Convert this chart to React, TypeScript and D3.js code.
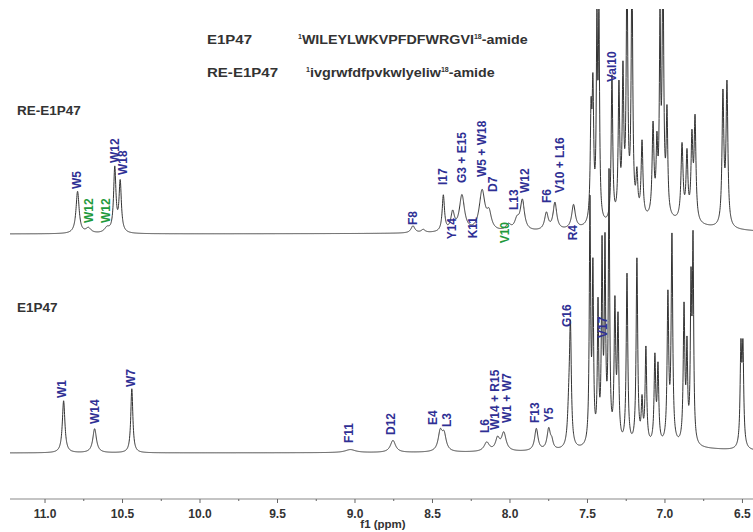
import React from 'react';
import * as d3 from 'd3';

const W = 753;
const H = 532;

// axis
const majorTicks = [11.0, 10.5, 10.0, 9.5, 9.0, 8.5, 8.0, 7.5, 7.0, 6.5];
const minorTicks = [10.75, 10.25, 9.75, 9.25, 8.75, 8.25, 7.75, 7.25, 6.75];
const axisTitle = 'f1 (ppm)';

// peaks: [ppm, intensity, half-width (ppm)]
type Peak = [number, number, number];

const rePeaks: Peak[] = [
  [10.79, 42, 0.012], [10.72, 5, 0.02], [10.60, 5, 0.02],
  [10.55, 64, 0.009], [10.515, 50, 0.009],
  [8.626, 7, 0.015], [8.56, 3, 0.015],
  [8.43, 36, 0.009], [8.37, 18, 0.014], [8.31, 36, 0.02],
  [8.18, 40, 0.022], [8.135, 16, 0.018],
  [8.01, 6, 0.02], [7.955, 10, 0.018], [7.92, 30, 0.016],
  [7.765, 17, 0.014], [7.71, 27, 0.014], [7.59, 24, 0.014],
  [7.477, 100, 0.006], [7.465, 125, 0.006], [7.439, 185, 0.005], [7.426, 190, 0.005],
  [7.342, 145, 0.006], [7.297, 130, 0.006], [7.271, 140, 0.006],
  [7.245, 250, 0.006], [7.213, 250, 0.006], [7.181, 40, 0.007], [7.148, 75, 0.007],
  [7.077, 90, 0.007], [7.052, 65, 0.006], [7.032, 180, 0.005], [7.013, 250, 0.006],
  [6.987, 100, 0.006], [6.89, 75, 0.008], [6.858, 65, 0.007], [6.826, 80, 0.007], [6.806, 100, 0.007],
  [6.626, 130, 0.007], [6.60, 140, 0.007],
  [7.05, 12, 0.35],
];

const e1Peaks: Peak[] = [
  [10.88, 52, 0.010], [10.68, 24, 0.014], [10.44, 64, 0.008],
  [9.03, 3, 0.04], [8.755, 12, 0.02],
  [8.45, 19, 0.016], [8.425, 16, 0.016],
  [8.15, 9, 0.02], [8.08, 12, 0.016], [8.04, 18, 0.018],
  [7.83, 22, 0.013], [7.75, 21, 0.013], [7.73, 7, 0.01],
  [7.62, 35, 0.01], [7.61, 112, 0.007],
  [7.484, 240, 0.005], [7.465, 170, 0.005], [7.432, 135, 0.005], [7.406, 190, 0.005],
  [7.387, 190, 0.005], [7.361, 265, 0.005],
  [7.323, 135, 0.006], [7.303, 120, 0.006],
  [7.245, 170, 0.006], [7.181, 185, 0.006], [7.148, 40, 0.006], [7.123, 95, 0.006],
  [7.065, 85, 0.006], [7.045, 75, 0.006],
  [6.981, 145, 0.006], [6.955, 205, 0.006],
  [6.877, 135, 0.006], [6.858, 90, 0.005], [6.832, 150, 0.005], [6.819, 195, 0.005],
  [6.51, 95, 0.006], [6.497, 95, 0.006],
  [7.0, 5, 0.5],
];

type Label = { text: string; ppm: number; at: number; below?: boolean; green?: boolean };

const reLabels: Label[] = [
  { text: 'W5', ppm: 10.794, at: 45 },
  { text: 'W12', ppm: 10.716, at: 11, green: true },
  { text: 'W12', ppm: 10.606, at: 11, green: true },
  { text: 'W12', ppm: 10.548, at: 71 },
  { text: 'W18', ppm: 10.497, at: 59 },
  { text: 'F8', ppm: 8.626, at: 9 },
  { text: 'I17', ppm: 8.432, at: 49 },
  { text: 'Y14', ppm: 8.374, at: 16, below: true },
  { text: 'G3 + E15', ppm: 8.31, at: 51 },
  { text: 'K11', ppm: 8.239, at: 17, below: true },
  { text: 'W5 + W18', ppm: 8.181, at: 57 },
  { text: 'D7', ppm: 8.11, at: 42 },
  { text: 'V10', ppm: 8.032, at: 12, below: true, green: true },
  { text: 'L13', ppm: 7.974, at: 24 },
  { text: 'W12', ppm: 7.903, at: 41 },
  { text: 'F6', ppm: 7.761, at: 31 },
  { text: 'V10 + L16', ppm: 7.677, at: 41 },
  { text: 'R4', ppm: 7.594, at: 9, below: true },
  { text: 'Val10', ppm: 7.342, at: 152 },
];

const e1Labels: Label[] = [
  { text: 'W1', ppm: 10.89, at: 55 },
  { text: 'W14', ppm: 10.677, at: 29 },
  { text: 'W7', ppm: 10.445, at: 66 },
  { text: 'F11', ppm: 9.039, at: 10 },
  { text: 'D12', ppm: 8.768, at: 18 },
  { text: 'E4', ppm: 8.497, at: 28 },
  { text: 'L3', ppm: 8.406, at: 26 },
  { text: 'L6', ppm: 8.161, at: 20 },
  { text: 'W14 + R15', ppm: 8.097, at: 23 },
  { text: 'W1 + W7', ppm: 8.019, at: 30 },
  { text: 'F13', ppm: 7.839, at: 30 },
  { text: 'Y5', ppm: 7.748, at: 31 },
  { text: 'G16', ppm: 7.632, at: 126 },
  { text: 'V17', ppm: 7.4, at: 115 },
];

const FONT = '"Liberation Sans", Arial, sans-serif';
const BLUE = '#2f2f94';
const GREEN = '#1f9a3c';
const LINE = '#333333';

const x = d3.scaleLinear().domain([11.226, 6.432]).range([10, 753]);
const yTop = d3.scaleLinear().domain([0, 100]).range([234, 134]);
const yBot = d3.scaleLinear().domain([0, 100]).range([453, 353]);

const grid = d3.range(11.226, 6.43, -0.001);

function spectrum(peaks: Peak[]) {
  return grid.map((p) => {
    let s = 0;
    for (const [c, h, w] of peaks) {
      const d = (p - c) / w;
      s += h / (1 + d * d);
    }
    return [p, s] as [number, number];
  });
}

function Labels({ items, y }: { items: Label[]; y: d3.ScaleLinear<number, number> }) {
  return (
    <g fontFamily={FONT} fontWeight="bold" fontSize={12}>
      {items.map((l, i) => {
        const cx = x(l.ppm);
        const cy = y(l.at);
        return (
          <text
            key={i}
            transform={`translate(${cx},${cy}) rotate(-90)`}
            textAnchor={l.below ? 'end' : 'start'}
            dominantBaseline="central"
            fill={l.green ? GREEN : BLUE}
          >
            {l.text}
          </text>
        );
      })}
    </g>
  );
}

export default function App() {
  const topData = spectrum(rePeaks);
  const botData = spectrum(e1Peaks);
  const lineTop = d3.line<[number, number]>().x((d) => x(d[0])).y((d) => yTop(d[1]));
  const lineBot = d3.line<[number, number]>().x((d) => x(d[0])).y((d) => yBot(d[1]));
  const axisY = 499;
  return (
    <svg width={W} height={H} style={{ position: 'absolute', left: 0, top: 0, background: '#fff' }}>
      <defs>
        <clipPath id="plotclip">
          <rect x={0} y={9} width={W} height={H - 9} />
        </clipPath>
      </defs>
      <g fontFamily={FONT} fontWeight="bold" fontSize={12.5} fill="#333">
        <text x={207} y={44} textLength={45} lengthAdjust="spacingAndGlyphs">E1P47</text>
        <text x={298} y={44}>
          <tspan fontSize={7} dy={-5}>1</tspan>
          <tspan dy={5} textLength={172} lengthAdjust="spacingAndGlyphs">WILEYLWKVPFDFWRGVI</tspan>
          <tspan fontSize={7} dy={-5}>18</tspan>
          <tspan dy={5} textLength={46} lengthAdjust="spacingAndGlyphs">-amide</tspan>
        </text>
        <text x={207} y={77} textLength={71} lengthAdjust="spacingAndGlyphs">RE-E1P47</text>
        <text x={306} y={77}>
          <tspan fontSize={7} dy={-5}>1</tspan>
          <tspan dy={5} textLength={131} lengthAdjust="spacingAndGlyphs">ivgrwfdfpvkwlyeliw</tspan>
          <tspan fontSize={7} dy={-5}>18</tspan>
          <tspan dy={5} textLength={46} lengthAdjust="spacingAndGlyphs">-amide</tspan>
        </text>
        <text x={17} y={115} fontSize={13.5}>RE-E1P47</text>
        <text x={17} y={312} fontSize={13.5}>E1P47</text>
      </g>
      <g clipPath="url(#plotclip)" fill="none" stroke={LINE} strokeWidth={1}>
        <path d={lineTop(topData) || ''} />
        <path d={lineBot(botData) || ''} />
      </g>
      <Labels items={reLabels} y={yTop} />
      <Labels items={e1Labels} y={yBot} />
      <g>
        <line x1={10} x2={753} y1={axisY} y2={axisY} stroke="#b0b0b0" strokeWidth={1.5} />
        {majorTicks.map((t) => (
          <line key={t} x1={x(t)} x2={x(t)} y1={axisY} y2={axisY + 4} stroke="#666" strokeWidth={1} />
        ))}
        {minorTicks.map((t) => (
          <line key={t} x1={x(t)} x2={x(t)} y1={axisY} y2={axisY + 2} stroke="#666" strokeWidth={1} />
        ))}
        <g fontFamily={FONT} fontWeight="bold" fontSize={12} fill="#333" textAnchor="middle">
          {majorTicks.map((t) => (
            <text key={t} x={x(t)} y={518}>{t.toFixed(1)}</text>
          ))}
          <text x={383} y={528} fontSize={11.5}>{axisTitle}</text>
        </g>
      </g>
    </svg>
  );
}
